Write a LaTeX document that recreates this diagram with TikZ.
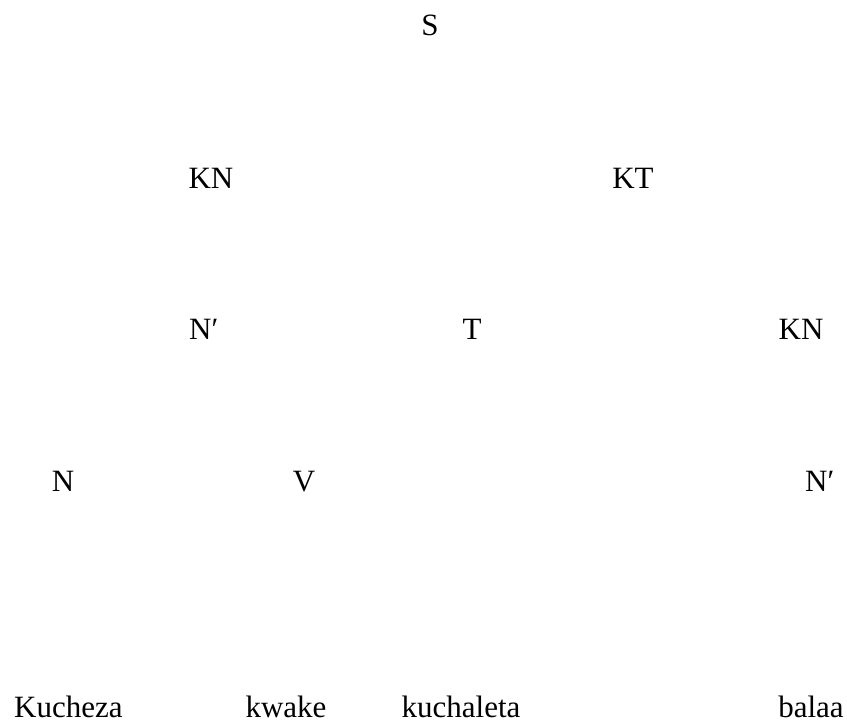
\documentclass[tikz,border=0pt]{standalone}
\usepackage{fontspec}
\setmainfont{Liberation Serif}
\begin{document}
\begin{tikzpicture}[x=1pt,y=-1pt,
  lbl/.style={inner sep=0pt,anchor=base,text depth=0pt,font=\fontsize{31}{36}\selectfont}]
\useasboundingbox (0,0) rectangle (847,722);
\node[lbl] (s) at (430,36) {S};
\node[lbl] (kn1) at (211,189) {KN};
\node[lbl] (kt) at (633,189) {KT};
\node[lbl,anchor=base west] (nb1) at (189,340) {N′};
\node[lbl] (t) at (472,340) {T};
\node[lbl] (kn2) at (801,340) {KN};
\node[lbl] (n) at (63,491) {N};
\node[lbl] (v) at (304,491) {V};
\node[lbl,anchor=base west] (nb2) at (805,491) {N′};
\node[lbl,anchor=base west] (w1) at (14,717) {Kucheza};
\node[lbl] (w2) at (286,717) {kwake};
\node[lbl] (w3) at (461,717) {kuchaleta};
\node[lbl] (w4) at (811,717) {balaa};
\end{tikzpicture}
\end{document}
